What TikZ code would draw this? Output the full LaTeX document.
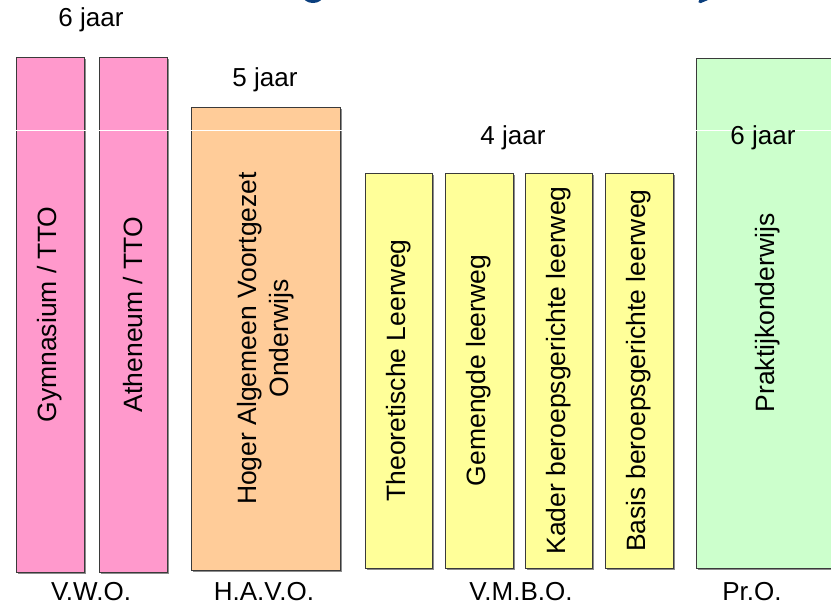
\documentclass[tikz,border=0pt]{standalone}
\usepackage{fontspec}
\setmainfont{Liberation Sans}
\usetikzlibrary{shadows}
\definecolor{vwo}{HTML}{FF99CC}
\definecolor{havo}{HTML}{FFCC99}
\definecolor{vmbo}{HTML}{FFFF99}
\definecolor{pro}{HTML}{CCFFCC}
\definecolor{titleblue}{HTML}{0B3F7E}
\definecolor{edge}{HTML}{3A3A3A}
\tikzset{
  txt/.style={font=\fontsize{26}{31}\selectfont, inner sep=0pt, text=black},
  col/.style={draw=edge, line width=1pt, inner sep=0pt, rotate=90,
    font=\fontsize{26.5}{32}\selectfont, align=center,
    drop shadow={shadow xshift=1.6pt, shadow yshift=-1.6pt, fill=black!45, opacity=1}},
}
\begin{document}
\begin{tikzpicture}[x=1pt,y=-1pt]
\useasboundingbox (0,0) rectangle (831,606);
% title fragments (cut off at the top edge)
\draw[titleblue, line width=4pt] (313,-6) ellipse (9 and 7);
\draw[titleblue, line width=3.5pt, line cap=round] (713,-4) -- (700,1.5);
% columns
\node[col, fill=vwo, minimum width=515, minimum height=68] (gym) at (50,314.5) {Gymnasium / TTO};
\node[col, fill=vwo, minimum width=515, minimum height=68] (ath) at (133,314.5) {Atheneum / TTO};
\node[col, fill=havo, minimum width=463, minimum height=149] (havo) at (265.5,338.5) {Hoger Algemeen Voortgezet\\Onderwijs};
\node[col, fill=vmbo, minimum width=395, minimum height=67] (tl) at (398.5,370.5) {Theoretische Leerweg};
\node[col, fill=vmbo, minimum width=395, minimum height=68] (gl) at (479,370.5) {Gemengde leerweg};
\node[col, fill=vmbo, minimum width=395, minimum height=67] (kb) at (558.5,370.5) {Kader beroepsgerichte leerweg};
\node[col, fill=vmbo, minimum width=395, minimum height=68] (bb) at (639,370.5) {Basis beroepsgerichte leerweg};
\node[col, fill=pro, minimum width=510, minimum height=144] (pro) at (768,313) {Praktijkonderwijs};
% faint white scan line
\draw[white, line width=0.8pt] (0,130) -- (831,130);
% durations
\node[txt] (d1) at (91,20) {6 jaar};
\node[txt] (d2) at (265,80) {5 jaar};
\node[txt] (d3) at (513,138) {4 jaar};
\node[txt] (d4) at (763,138) {6 jaar};
% school types
\node[txt] (l1) at (91,592) {V.W.O.};
\node[txt] (l2) at (264,592) {H.A.V.O.};
\node[txt] (l3) at (521,592) {V.M.B.O.};
\node[txt] (l4) at (752,592) {Pr.O.};
\end{tikzpicture}
\end{document}
